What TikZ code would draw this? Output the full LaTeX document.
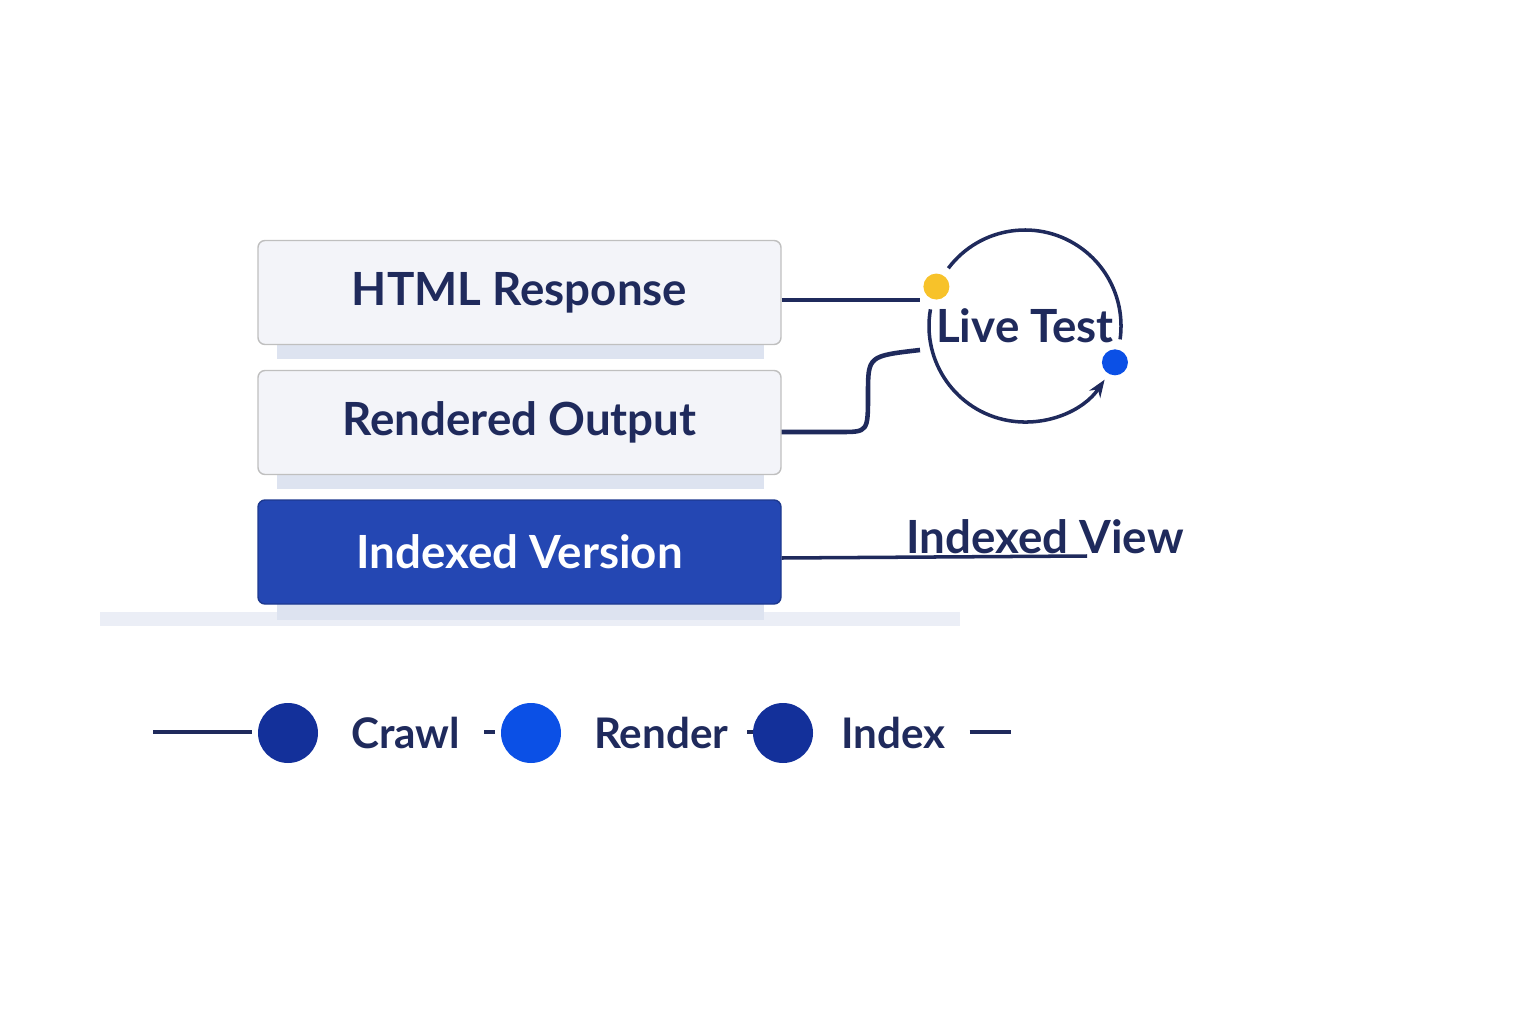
\documentclass[tikz,border=0pt]{standalone}
\usepackage{fontspec}
\setmainfont{Lato}
\usetikzlibrary{positioning,arrows.meta}
\definecolor{navy}{HTML}{1F2A5C}
\definecolor{deepblue}{HTML}{2447B3}
\definecolor{darkdot}{HTML}{13309A}
\definecolor{brightdot}{HTML}{0B50E6}
\definecolor{slab}{HTML}{DDE3F0}
\definecolor{card}{HTML}{F3F4F9}
\definecolor{amber}{HTML}{F7C22A}
\tikzset{
  layer/.style={draw=gray!50, fill=card, rounded corners=2pt, minimum width=5.23cm, minimum height=1.04cm, font=\bfseries\fontsize{13}{15}\selectfont, text=navy},
  stage/.style={circle, minimum size=0.6cm, inner sep=0pt},
  tag/.style={font=\bfseries\fontsize{12}{14}\selectfont, text=navy},
  wire/.style={navy, line width=1.3pt}
}
\begin{document}
\begin{tikzpicture}
\useasboundingbox (0,0) rectangle (15.36,10.24);
% base shadow and slabs
\fill[slab!60] (1.0,3.98) rectangle (9.6,4.12);
\fill[slab] (2.77,6.65) rectangle (7.64,6.8);
\fill[slab] (2.77,5.35) rectangle (7.64,5.5);
\fill[slab] (2.77,4.04) rectangle (7.64,4.2);
% layers
\node[layer] (1) at (5.195,7.315) {HTML Response};
\node[layer] (2) at (5.195,6.015) {Rendered Output};
\node[layer, fill=deepblue, draw=deepblue!80!black, text=white] (3) at (5.195,4.72) {Indexed Version};
% live test
\coordinate (lt) at (10.25,6.98);
\node[tag, font=\bfseries\fontsize{13}{15}\selectfont] (4) at (lt) {Live Test};
\draw[wire, line width=1pt] (lt) ++(143:0.96) arc (143:-8:0.96);
\draw[wire, line width=1pt, -{Stealth[length=5pt]}] (lt) ++(170:0.96) arc (170:326:0.96);
\fill[amber] (lt) ++(156:0.97) circle (0.13);
\fill[brightdot] (lt) ++(-22:0.97) circle (0.13);
\coordinate (a) at (9.2,7.24);
\coordinate (b) at (9.2,6.74);
\draw[wire] (1.east |- a) -- (a);
\draw[wire] (2.east |- 0,5.92) -- (8.4,5.92) .. controls (8.68,5.92) .. (8.68,6.3) .. controls (8.68,6.68) .. (b);
% indexed view
\node[tag, font=\bfseries\fontsize{13}{15}\selectfont] (5) at (10.45,4.87) {Indexed View};
\coordinate (c) at (10.87,4.68);
\draw[wire, line width=1pt] (3.east |- 0,4.66) -- (c);
% timeline
\node[stage, fill=darkdot] (6) at (2.88,2.91) {};
\node[tag, right=0.2cm of 6] (7) {Crawl};
\node[stage, fill=brightdot] (8) at (5.31,2.91) {};
\node[tag, right=0.2cm of 8] (9) {Render};
\node[stage, fill=darkdot] (10) at (7.83,2.91) {};
\node[tag, right=0.15cm of 10] (11) {Index};
\coordinate (s) at (1.53,2.92);
\coordinate (e) at (10.11,2.92);
\draw[wire] (s) -- ([xshift=-0.05cm]6.west |- s);
\draw[wire, shorten <=0.12cm, shorten >=0.05cm] (7.east |- s) -- (8.west |- s);
\draw[wire, shorten <=0.12cm, shorten >=0.05cm] (9.east |- s) -- (10.west |- s);
\draw[wire, shorten <=0.12cm] (11.east |- s) -- (e);
\end{tikzpicture}
\end{document}
